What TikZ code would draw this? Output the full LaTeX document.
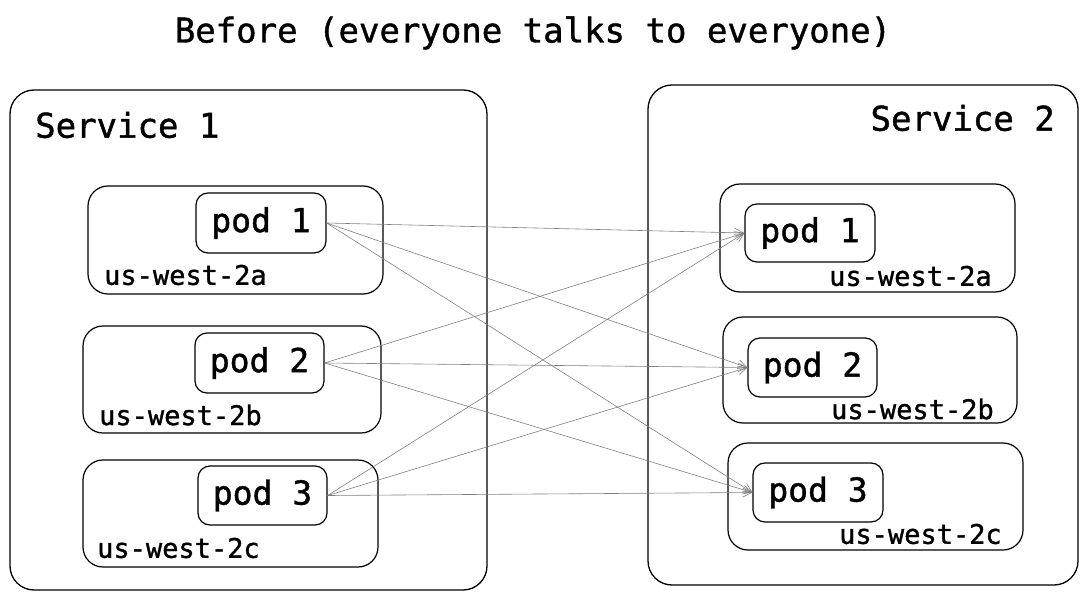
\documentclass[tikz,border=0pt]{standalone}
\usepackage{fontspec}
\setmonofont[FakeBold=1.2]{DejaVu Sans Mono}
\usetikzlibrary{arrows.meta}
\tikzset{
  svc/.style={draw=black, line width=1.3pt, rounded corners=24pt, inner sep=0pt},
  zone/.style={draw=black, line width=1.2pt, rounded corners=20pt, inner sep=0pt},
  podbox/.style={draw=black, line width=1.2pt, rounded corners=12pt, inner sep=0pt,
     font=\ttfamily\fontsize{33}{38}\selectfont},
  lbl/.style={inner sep=0pt, font=\ttfamily\fontsize{27}{32}\selectfont},
  big/.style={inner sep=0pt, font=\ttfamily\fontsize{34}{40}\selectfont},
  conn/.style={draw=black!50, line width=0.6pt, -{Straight Barb[length=9pt,width=9pt]}},
}
\begin{document}
\begin{tikzpicture}[x=1pt,y=-1pt]
\useasboundingbox (0,0) rectangle (1089,601);
% title
\node[big] (title) at (533,33) {Before (everyone talks to everyone)};
% services
\node[svc, minimum width=477pt, minimum height=500pt] (s1) at (248.5,340) {};
\node[svc, minimum width=430pt, minimum height=500pt] (s2) at (863,335) {};
\node[big, anchor=west] (s1t) at (35,125) {Service 1};
\node[big, anchor=east] (s2t) at (1055,118) {Service 2};
% left zones
\node[zone, minimum width=295pt, minimum height=108pt] (lz1) at (235.5,240) {};
\node[zone, minimum width=298pt, minimum height=107pt] (lz2) at (232,379.5) {};
\node[zone, minimum width=295pt, minimum height=107pt] (lz3) at (230.5,513.5) {};
\node[podbox, minimum width=130pt, minimum height=60pt] (lp1) at (261,223) {pod 1};
\node[podbox, minimum width=129pt, minimum height=60pt] (lp2) at (259.5,363) {pod 2};
\node[podbox, minimum width=129pt, minimum height=59pt] (lp3) at (262.5,495.5) {pod 3};
\node[lbl, anchor=west] (lz1t) at (104,275) {us-west-2a};
\node[lbl, anchor=west] (lz2t) at (99,415) {us-west-2b};
\node[lbl, anchor=west] (lz3t) at (97,548) {us-west-2c};
% right zones
\node[zone, minimum width=295pt, minimum height=108pt] (rz1) at (867.5,238) {};
\node[zone, minimum width=294pt, minimum height=106pt] (rz2) at (870,370) {};
\node[zone, minimum width=295pt, minimum height=107pt] (rz3) at (875.5,496.5) {};
\node[podbox, minimum width=130pt, minimum height=58pt] (rp1) at (810,233) {pod 1};
\node[podbox, minimum width=129pt, minimum height=59pt] (rp2) at (812.5,367.5) {pod 2};
\node[podbox, minimum width=130pt, minimum height=59pt] (rp3) at (818,492.5) {pod 3};
\node[lbl, anchor=west] (rz1t) at (829,276) {us-west-2a};
\node[lbl, anchor=west] (rz2t) at (831,409) {us-west-2b};
\node[lbl, anchor=west] (rz3t) at (839,534) {us-west-2c};
% connectors
\foreach \a in {lp1,lp2,lp3}{
  \foreach \b in {rp1,rp2,rp3}{
    \draw[conn] (\a.east) -- (\b.west);
  }
}
\end{tikzpicture}
\end{document}
